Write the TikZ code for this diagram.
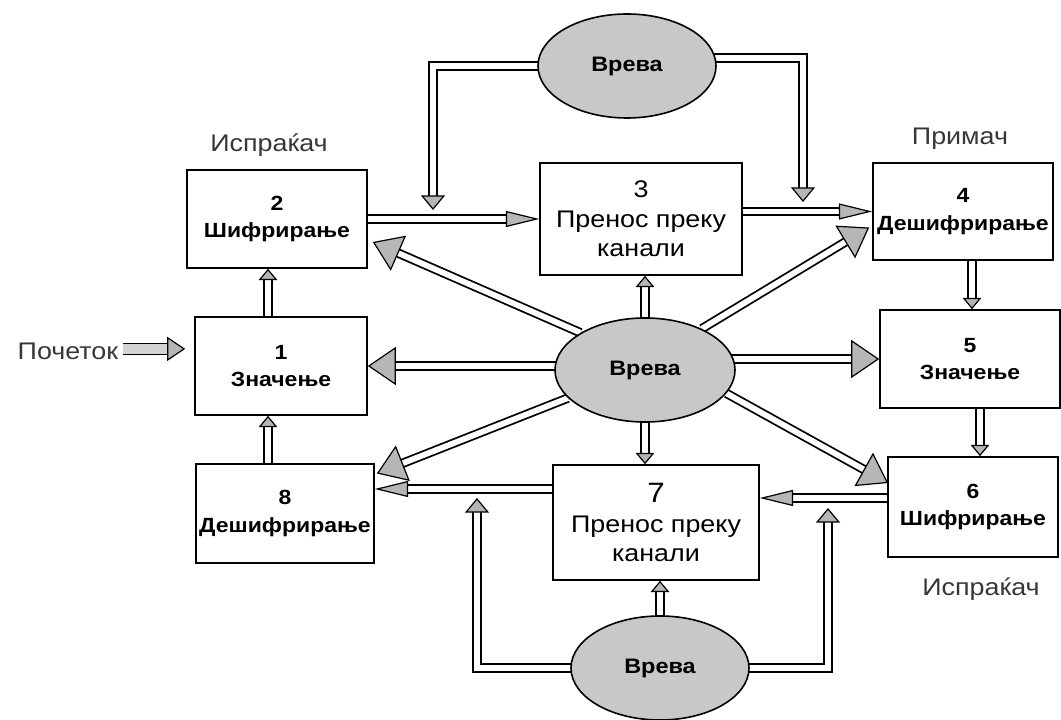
\documentclass[tikz,border=0pt]{standalone}
\usepackage{fontspec}
\setmainfont{Liberation Sans}[FakeStretch=1.12]
\usetikzlibrary{arrows.meta,shapes.geometric,calc,backgrounds}
\definecolor{headgray}{RGB}{182,182,182}
\definecolor{ellgray}{RGB}{200,200,200}
\definecolor{labgray}{RGB}{55,55,55}
\tikzset{
  box/.style={draw, line width=1.2pt, fill=white, inner sep=0pt, align=center,
    font=\fontsize{15.4pt}{20.5pt}\selectfont\bfseries},
  chbox/.style={box, font=\fontsize{18pt}{22pt}\selectfont},
  noise/.style={ellipse, draw, line width=1.2pt, fill=ellgray, inner sep=0pt,
    minimum width=135pt, minimum height=78pt,
    font=\fontsize{15.7pt}{18pt}\selectfont\bfseries},
  outlab/.style={anchor=base, text=labgray, font=\fontsize{18pt}{20pt}\selectfont},
  hol/.style={draw=black, line width=1.35pt, double=white, double distance=4.3pt},
  holstart/.style={draw=black, line width=1.1pt, double=headgray!60, double distance=7pt},
  TipSmall/.tip={Triangle[length=8.5pt, width=14pt, line width=0.9pt, fill=headgray]},
  TipMid/.tip={Triangle[length=11pt, width=18pt, line width=0.9pt, fill=headgray]},
  TipLong/.tip={Triangle[length=25pt, width=12pt, line width=0.9pt, fill=headgray]},
  TipBig/.tip={Triangle[length=21pt, width=28.5pt, line width=0.9pt, fill=headgray]},
  TipStart/.tip={Triangle[length=13.5pt, width=18pt, line width=0.9pt, fill=headgray]},
}
\begin{document}
\begin{tikzpicture}[x=0.75pt, y=-0.75pt]
\useasboundingbox (0,0) rectangle (1061,720);

% boxes
\node[box, minimum width=129pt, minimum height=73.5pt] (b1) at (281,366) {1\\Значење};
\node[box, minimum width=135pt, minimum height=73.5pt] (b2) at (277,219) {2\\Шифрирање};
\node[chbox, minimum width=151.5pt, minimum height=84pt] (b3) at (641,219) {3\\Пренос преку\\канали};
\node[box, minimum width=135pt, minimum height=72.75pt] (b4) at (963,211.5) {4\\Дешифрирање};
\node[box, minimum width=135pt, minimum height=73.5pt] (b5) at (970,359) {5\\Значење};
\node[box, minimum width=127.5pt, minimum height=75pt] (b6) at (973,507) {6\\Шифрирање};
\node[chbox, minimum width=154.5pt, minimum height=86.25pt] (b7) at (656,522.5) {{\fontsize{21pt}{22pt}\selectfont 7}\\Пренос преку\\канали};
\node[box, minimum width=133.5pt, minimum height=74.25pt] (b8) at (285,513.5) {8\\Дешифрирање};

% noise ellipses
\node[noise, minimum width=133.5pt] (et) at (627,66) {Врева};
\node[noise] (e0) at (645,370) {Врева};
\node[noise, minimum width=133.5pt] (eb) at (660,668) {Врева};

% outside labels
\node[outlab] (lsend) at (269,152) {Испраќач};
\node[outlab] (lrecv) at (960,145) {Примач};
\node[outlab] (lsend2) at (981,595) {Испраќач};
\node[outlab, anchor=base west] (lstart) at (13,360) {Почеток};

% connector end points
\coordinate (tl) at (433,210);
\coordinate (tr) at (803,202);
\coordinate (bl) at (477,498);
\coordinate (br) at (828,508);
\coordinate (s0) at ($(lstart.east)+(0,-3)$);
\coordinate (s0e) at ($(b1.west |- s0)+(-9,0)$);
\coordinate (s12) at ($(b1.north)+(-13,0)$);
\coordinate (s45) at ($(b4.south)+(9,0)$);
\coordinate (s56) at ($(b5.south)+(10,0)$);
\coordinate (s67) at ($(b6.west)+(0,-9)$);
\coordinate (s78) at ($(b7.west)+(0,-33.5)$);
\coordinate (s81) at ($(b8.north)+(-17,0)$);
\coordinate (t2) at ($(b2.east)+(5,23)$);
\coordinate (t4) at ($(b4.west)+(-3,16)$);
\coordinate (t8) at ($(b8.east)+(2,-40)$);
\coordinate (t6) at ($(b6.west)+(1,-24)$);
\coordinate (etr) at ($(et.center)+(0,-8)$);

\begin{scope}[on background layer]
  % start
  \draw[holstart, -{TipStart}] (s0) -- (s0e);
  % main flow
  \draw[hol, -{TipSmall}] (s12) -- (s12 |- b2.south);
  \draw[hol, -{TipLong}] (b2.east) -- (b2.east -| b3.west);
  \draw[hol, -{TipLong}] (b3.east |- b4.west) -- (b4.west);
  \draw[hol, -{TipSmall}] (s45) -- (s45 |- b5.north);
  \draw[hol, -{TipSmall}] (s56) -- (s56 |- b6.north);
  \draw[hol, -{TipLong}] (s67) -- (s67 -| b7.east);
  \draw[hol, -{TipLong}] (s78) -- (s78 -| b8.east);
  \draw[hol, -{TipSmall}] (s81) -- (s81 |- b1.south);
  % central noise
  \draw[hol, -{TipSmall}] (e0.center) -- (e0.center |- b3.south);
  \draw[hol, -{TipSmall}] (e0.center) -- (e0.center |- b7.north);
  \draw[hol, -{TipBig}] (e0.center |- b1.east) -- (b1.east);
  \draw[hol, -{TipBig}] (e0.center |- b5.west) -- (b5.west);
  \draw[hol, -{TipBig}] (e0.150) -- (t2);
  \draw[hol, -{TipBig}] (e0.36) -- (t4);
  \draw[hol, -{TipBig}] (e0.200) -- (t8);
  \draw[hol, -{TipBig}] (e0.-16) -- (t6);
  % top noise
  \draw[hol, -{TipMid}] (et.center) -| (tl);
  \draw[hol, -{TipMid}] (etr) -| (tr);
  % bottom noise
  \draw[hol, -{TipSmall}] (eb.center) -- (eb.center |- b7.south);
  \draw[hol, -{TipMid}] (eb.center) -| (bl);
  \draw[hol, -{TipMid}] (eb.center) -| (br);
\end{scope}
\end{tikzpicture}
\end{document}
